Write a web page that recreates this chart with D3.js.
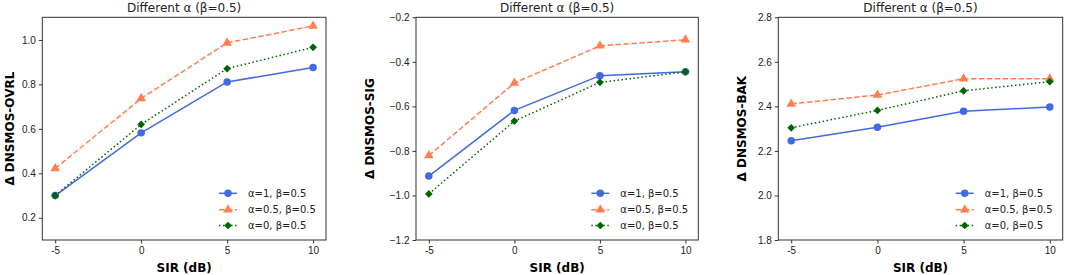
<!DOCTYPE html>
<html>
<head>
<meta charset="utf-8">
<script src="https://cdn.jsdelivr.net/npm/d3@7"></script>
<style>
  body { margin: 0; background: #fff; }
  svg { font-family: "DejaVu Sans", sans-serif; }
</style>
</head>
<body>
<div id="container"></div>
<script>
// data
const sir = [-5, 0, 5, 10];
const seriesNames = ["α=1, β=0.5", "α=0.5, β=0.5", "α=0, β=0.5"];

const ovrlA1 = [0.300, 0.582, 0.811, 0.876];
const ovrlA05 = [0.422, 0.737, 0.987, 1.063];
const ovrlA0 = [0.300, 0.620, 0.871, 0.967];

const sigA1 = [-0.913, -0.618, -0.462, -0.444];
const sigA05 = [-0.821, -0.495, -0.328, -0.301];
const sigA0 = [-0.993, -0.666, -0.492, -0.445];

const bakA1 = [2.246, 2.306, 2.378, 2.397];
const bakA05 = [2.411, 2.451, 2.524, 2.524];
const bakA0 = [2.304, 2.382, 2.470, 2.511];

const yLabels = ["Δ DNSMOS-OVRL", "Δ DNSMOS-SIG", "Δ DNSMOS-BAK"];
const yDomains = [[0.1, 1.102], [-1.2, -0.2], [1.8, 2.8]];
const yTicks = [[0.2, 0.4, 0.6, 0.8, 1.0], [-1.2, -1.0, -0.8, -0.6, -0.4, -0.2], [1.8, 2.0, 2.2, 2.4, 2.6, 2.8]];

/**
 * CONSTANTS
 * */
const width = 1065, height = 275;
const colors = ["#4169e1", "#ff7f50", "#006400"];
const dashes = [null, "5.5,2.4", "1.5,2.5"];
// circle, triangle, and a square turned 45deg (matplotlib "D")
const markers = [d3.symbolCircle, d3.symbolTriangle, d3.symbolSquare];
const markerSize = [44, 40, 30];
const markerRot = [0, 0, 45];

// axes boxes in pixels
const panels = [
  { left: 42.3, right: 326, top: 17.3, bottom: 240, labelX: 10, series: [ovrlA1, ovrlA05, ovrlA0] },
  { left: 416, right: 698.3, top: 17.3, bottom: 240, labelX: 370, series: [sigA1, sigA05, sigA0] },
  { left: 778.3, right: 1062.7, top: 17.3, bottom: 240, labelX: 741.7, series: [bakA1, bakA05, bakA0] }
];

const svg = d3.select("#container")
  .append("svg")
  .attr("width", width)
  .attr("height", height);

const fmtY = d => d3.format(".1f")(d).replace("-", "−");

panels.forEach((p, i) => {
  const x = d3.scaleLinear().domain([-5.75, 10.75]).range([p.left, p.right]);
  const y = d3.scaleLinear().domain(yDomains[i]).range([p.bottom, p.top]);

  const g = svg.append("g");

  // x axis
  g.append("g")
    .attr("transform", `translate(0,${p.bottom})`)
    .call(d3.axisBottom(x).tickValues(sir).tickSize(3.5).tickPadding(3).tickFormat(d => String(d)))
    .call(a => a.select(".domain").remove())
    .call(a => a.selectAll("line").attr("stroke", "#333"))
    .call(a => a.selectAll("text").attr("font-size", 10).attr("fill", "#222"));

  // y axis
  g.append("g")
    .attr("transform", `translate(${p.left},0)`)
    .call(d3.axisLeft(y).tickValues(yTicks[i]).tickSize(3.5).tickPadding(3).tickFormat(fmtY))
    .call(a => a.select(".domain").remove())
    .call(a => a.selectAll("line").attr("stroke", "#333"))
    .call(a => a.selectAll("text").attr("font-size", 10).attr("fill", "#222"));

  // frame
  g.append("rect")
    .attr("x", p.left).attr("y", p.top)
    .attr("width", p.right - p.left).attr("height", p.bottom - p.top)
    .attr("fill", "none").attr("stroke", "#333").attr("stroke-width", 1);

  // title
  g.append("text")
    .attr("x", (p.left + p.right) / 2).attr("y", 12)
    .attr("text-anchor", "middle").attr("font-size", 12).attr("fill", "#222")
    .text("Different α (β=0.5)");

  // axis labels
  g.append("text")
    .attr("x", (p.left + p.right) / 2).attr("y", 271.5)
    .attr("text-anchor", "middle").attr("font-size", 12).attr("font-weight", "bold")
    .text("SIR (dB)");

  g.append("text")
    .attr("transform", `translate(${p.labelX + 4.3},${(p.top + p.bottom) / 2}) rotate(-90)`)
    .attr("text-anchor", "middle").attr("font-size", 12).attr("font-weight", "bold")
    .text(yLabels[i]);

  const line = d3.line().x((d, j) => x(sir[j])).y(d => y(d));

  p.series.forEach((vals, s) => {
    g.append("path")
      .datum(vals)
      .attr("d", line)
      .attr("fill", "none")
      .attr("stroke", colors[s])
      .attr("stroke-width", 1.5)
      .attr("stroke-dasharray", dashes[s]);

    g.selectAll(null)
      .data(vals)
      .join("path")
      .attr("transform", (d, j) => `translate(${x(sir[j])},${y(d)}) rotate(${markerRot[s]})`)
      .attr("d", d3.symbol(markers[s], markerSize[s]))
      .attr("fill", colors[s]);
  });

  // legend (lower right)
  const lx = p.right - 107;
  const rows = [193.3, 209.8, 225.5];
  seriesNames.forEach((name, s) => {
    g.append("line")
      .attr("x1", lx).attr("x2", lx + 18)
      .attr("y1", rows[s]).attr("y2", rows[s])
      .attr("stroke", colors[s]).attr("stroke-width", 1.5)
      .attr("stroke-dasharray", dashes[s]);
    g.append("path")
      .attr("transform", `translate(${lx + 9},${rows[s]}) rotate(${markerRot[s]})`)
      .attr("d", d3.symbol(markers[s], markerSize[s]))
      .attr("fill", colors[s]);
    g.append("text")
      .attr("x", lx + 29).attr("y", rows[s] + 3.5)
      .attr("font-size", 10).attr("fill", "#222")
      .text(name);
  });
});
</script>
</body>
</html>
